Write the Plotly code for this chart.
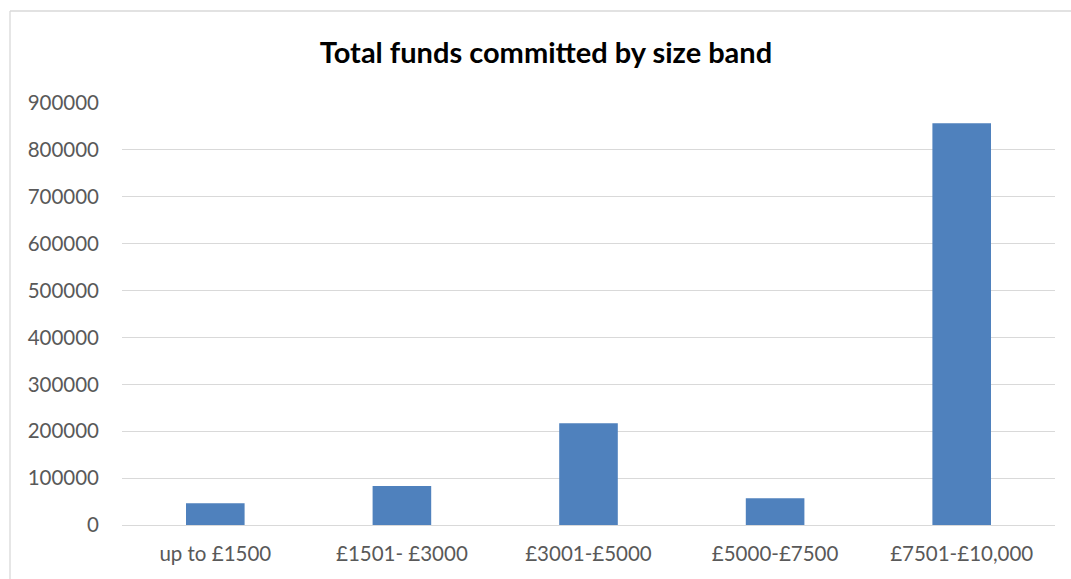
import plotly.graph_objects as go

categories = ["up to £1500", "£1501- £3000", "£3001-£5000", "£5000-£7500", "£7501-£10,000"]
values = [46300, 83200, 217000, 57000, 857000]
y_ticks = [0, 100000, 200000, 300000, 400000, 500000, 600000, 700000, 800000, 900000]
title_text = "Total funds committed by size band"

W, H = 1071, 579
ML, MR, MT, MB = 122, 16, 103, 54
pw, ph = W - ML - MR, H - MT - MB

fig = go.Figure()
fig.add_trace(go.Bar(x=categories, y=values, marker=dict(color="#4F81BD", line=dict(width=0))))

def px_to_paper_x(px):
    return (px - ML) / pw

def px_to_paper_y(py):
    return (H - MB - py) / ph

border = dict(color="#D9D9D9", width=1.3)
fig.update_layout(
    width=W, height=H,
    margin=dict(l=ML, r=MR, t=MT, b=MB),
    paper_bgcolor="white", plot_bgcolor="white",
    bargap=0.686,
    showlegend=False,
    font=dict(family="Lato", color="#595959", size=20.5),
    title=dict(text="<b>" + title_text + "</b>", x=546 / W, xanchor="center",
               y=1 - 53 / H, yanchor="middle",
               font=dict(family="Lato", size=29, color="black")),
    xaxis=dict(showgrid=False, showline=False, ticks="", ticklabelstandoff=14,
               tickfont=dict(size=20.5, color="#595959"), fixedrange=True),
    yaxis=dict(range=[0, 900000], tickvals=y_ticks, ticktext=[str(v) for v in y_ticks],
               showgrid=True, gridcolor="#D9D9D9", gridwidth=1.3,
               zeroline=True, zerolinecolor="#D9D9D9", zerolinewidth=1.3,
               ticks="", ticklabelstandoff=22, showline=False,
               tickfont=dict(size=20.5, color="#595959")),
    shapes=[
        dict(type="line", xref="paper", yref="paper",
             x0=px_to_paper_x(10), x1=px_to_paper_x(1100),
             y0=px_to_paper_y(11), y1=px_to_paper_y(11), line=border, layer="below"),
        dict(type="line", xref="paper", yref="paper",
             x0=px_to_paper_x(10), x1=px_to_paper_x(10),
             y0=px_to_paper_y(11), y1=px_to_paper_y(620), line=border, layer="below"),
    ],
)

fig.write_html("out.html", config={"displayModeBar": False},
               post_script="document.body.style.margin='0';document.body.style.overflow='hidden';")
